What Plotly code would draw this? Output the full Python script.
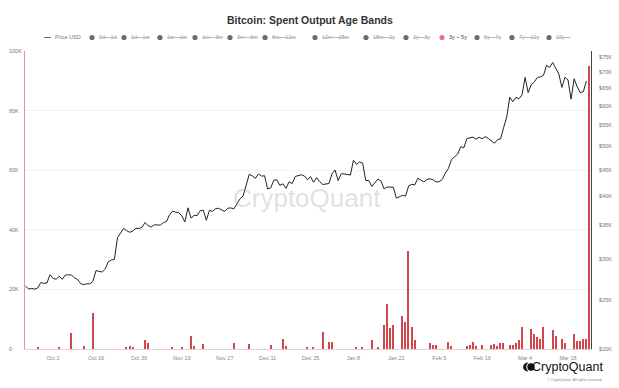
import plotly.graph_objects as go
import pandas as pd

# ---------------- DATA ----------------
price_start = "2023-09-23"
price_sep = [26580, 26250, 26300, 26220, 26370, 27020, 26910, 26970]
price_oct = [27990, 27510, 27430, 27800, 27420, 27950, 27970, 27940, 27590, 27390,
             26880, 26760, 26860, 26860, 27160, 28520, 28420, 28330, 28720, 29680,
             29920, 29990, 33090, 33900, 34500, 34160, 33910, 34090, 34540, 34500, 34670]
price_nov = [35440, 34940, 34730, 35080, 35050, 35040, 35420, 35620, 36700, 37320,
             37140, 37060, 36500, 35540, 37880, 36160, 36600, 36590, 37390, 37480,
             35810, 37430, 37290, 37720, 37800, 37480, 37250, 37830, 37850, 37720]
price_dec = [38690, 39460, 39970, 41980, 44080, 43750, 43290, 44170, 43720, 43790,
             41240, 41450, 42890, 43020, 41930, 42240, 41360, 42620, 42270, 43650,
             43870, 43990, 43740, 43020, 43610, 42520, 43440, 42630, 42100, 42140, 42280]
price_jan = [44180, 44940, 42850, 44180, 44160, 43970, 43930, 46970, 46110, 46630,
             46340, 42890, 42850, 41730, 42510, 43150, 42740, 41260, 41620, 41660,
             41580, 39570, 39850, 40080, 39950, 41820, 42120, 42030, 43300, 42950, 42580]
price_feb = [43080, 43190, 42990, 42580, 42660, 43090, 44340, 45290, 47150, 47770,
             48290, 49960, 49700, 51810, 51940, 52160, 51660, 52120, 51780, 52280,
             51840, 51300, 50730, 51570, 51730, 54480, 57090, 62500, 61200]
price_mar = [62440, 62030, 63170, 68330, 63800, 66110, 66930, 68300, 68500, 69020,
             72120, 71480, 73080, 71400, 69400, 65300, 68390, 67550, 61910, 67910,
             65490, 63780, 64060, 67210]

bar_dates = ["2023-09-27", "2023-10-04", "2023-10-08", "2023-10-12", "2023-10-15",
             "2023-10-26", "2023-10-27", "2023-10-28", "2023-11-01", "2023-11-02",
             "2023-11-10", "2023-11-13",
             "2023-11-16", "2023-11-17", "2023-11-20", "2023-11-30", "2023-12-05",
             "2023-12-12", "2023-12-16", "2023-12-17", "2023-12-24", "2023-12-26",
             "2023-12-29", "2023-12-31", "2024-01-01", "2024-01-09", "2024-01-11",
             "2024-01-14", "2024-01-16", "2024-01-18", "2024-01-19", "2024-01-20",
             "2024-01-21", "2024-01-24", "2024-01-25", "2024-01-26", "2024-01-27",
             "2024-01-28", "2024-02-02", "2024-02-03", "2024-02-04", "2024-02-08",
             "2024-02-09", "2024-02-14", "2024-02-15", "2024-02-16", "2024-02-17",
             "2024-02-19", "2024-02-22", "2024-02-23", "2024-02-24", "2024-02-25",
             "2024-02-26", "2024-02-28", "2024-02-29", "2024-03-01", "2024-03-02",
             "2024-03-03", "2024-03-06", "2024-03-07", "2024-03-08", "2024-03-09",
             "2024-03-10", "2024-03-13", "2024-03-14", "2024-03-16", "2024-03-17",
             "2024-03-20", "2024-03-21", "2024-03-22", "2024-03-23", "2024-03-24",
             "2024-03-25"]
bar_values = [500, 500, 5400, 1000, 12000,
              800, 1000, 800, 3000, 2000,
              400, 400,
              4500, 1000, 1600, 2000, 1800,
              1400, 3200, 1000, 500, 600,
              5700, 2200, 2200, 400, 500,
              3000, 500, 8000, 15000, 7000,
              8000, 11000, 9000, 33000, 7500,
              3000, 2000, 1500, 1200, 2500,
              1000, 1000, 1500, 2500, 1000,
              1500, 1500, 1800, 1000, 2000,
              2000, 1200, 1500, 2000, 3000,
              7400, 6700, 5000, 4000, 3400,
              7300, 6400, 4400, 3300, 2000,
              5000, 2700, 2700, 3200, 3400,
              95000]

x_tick_dates = ["2023-10-02", "2023-10-16", "2023-10-30", "2023-11-13", "2023-11-27",
                "2023-12-11", "2023-12-25", "2024-01-08", "2024-01-22", "2024-02-05",
                "2024-02-19", "2024-03-04", "2024-03-18"]
left_tick_vals = [0, 20000, 40000, 60000, 80000, 100000]
left_tick_text = ["0", "20K", "40K", "60K", "80K", "100K"]
right_tick_vals = [20000, 25000, 30000, 35000, 40000, 45000, 50000, 55000, 60000, 65000, 70000, 75000]
right_tick_text = ["$20K", "$25K", "$30K", "$35K", "$40K", "$45K", "$50K", "$55K", "$60K", "$65K", "$70K", "$75K"]

legend_labels = ["0d~1d", "1d~1w", "1w~1m", "1m~3m", "3m~6m", "6m~12m", "12m~18m",
                 "18m~2y", "2y~3y", "3y~5y", "5y~7y", "7y~10y", "10y~"]
active_band = "3y~5y"

# ---------------- LAYOUT HELPERS ----------------
W, H = 619, 388
L, R, T, B = 25, 28, 51, 39
PW, PH = W - L - R, H - T - B


def px(x):
    return (x - L) / PW


def py(y):
    return (H - B - y) / PH


FONT = "Liberation Sans, Arial, sans-serif"
BAR_COLOR = "#d0474c"

prices = price_sep + price_oct + price_nov + price_dec + price_jan + price_feb + price_mar
price_dates = pd.date_range(price_start, periods=len(prices), freq="D")

fig = go.Figure()
fig.add_trace(go.Bar(
    x=pd.to_datetime(bar_dates), y=bar_values, yaxis="y",
    marker=dict(color=BAR_COLOR, line=dict(width=0)),
    width=0.45 * 86400000, showlegend=False, hoverinfo="skip",
))
fig.add_trace(go.Scatter(
    x=price_dates, y=prices, yaxis="y2", mode="lines",
    line=dict(color="#222222", width=1), showlegend=False,
))

shapes = []
annotations = []

# title
annotations.append(dict(text="<b>Bitcoin: Spent Output Age Bands</b>", x=px(310), y=py(20),
                        xref="paper", yref="paper", showarrow=False,
                        font=dict(family=FONT, size=10.5, color="#333333"),
                        xanchor="center", yanchor="middle"))

# legend
LY = 37.5
shapes.append(dict(type="line", xref="paper", yref="paper", x0=px(44), x1=px(51),
                   y0=py(LY), y1=py(LY), line=dict(color="#666666", width=1)))
annotations.append(dict(text="Price USD", x=px(53), y=py(LY), xref="paper", yref="paper",
                        showarrow=False, xanchor="left", yanchor="middle",
                        font=dict(family=FONT, size=5.5, color="#777777")))
dot_x = [92, 124, 160, 195, 230, 265, 315, 366, 406, 442, 477, 512, 549]
for lab, dx in zip(legend_labels, dot_x):
    active = lab == active_band
    col = "#e07a85" if active else "#6b6b6b"
    shapes.append(dict(type="circle", xref="paper", yref="paper",
                       x0=px(dx - 2.6), x1=px(dx + 2.6), y0=py(LY + 2.6), y1=py(LY - 2.6),
                       fillcolor=col, line=dict(width=0)))
    if active:
        txt = lab.replace("~", " ~ ")
        tcol = "#444444"
    else:
        txt = '<span style="text-decoration:line-through">' + lab.replace("~", "—") + "</span>"
        tcol = "#a0a0a0"
    annotations.append(dict(text=txt, x=px(dx + 4.5), y=py(LY), xref="paper", yref="paper",
                            showarrow=False, xanchor="left", yanchor="middle",
                            font=dict(family=FONT, size=5.5, color=tcol)))

# left axis labels (left aligned)
for v, t in zip(left_tick_vals, left_tick_text):
    annotations.append(dict(text=t, x=px(7), y=v, xref="paper", yref="y", showarrow=False,
                            xanchor="left", yanchor="middle",
                            font=dict(family=FONT, size=5.5, color="#777777")))

# watermark
annotations.append(dict(text="CryptoQuant", x=px(307), y=py(198), xref="paper", yref="paper",
                        showarrow=False, xanchor="center", yanchor="middle",
                        font=dict(family=FONT, size=26, color="rgba(150,150,150,0.30)")))

# bottom-right logo
shapes.append(dict(type="path", xref="paper", yref="paper", fillcolor="#111111", line=dict(width=0),
                   path=(f"M {px(528)} {py(362.5)} C {px(521.5)} {py(362.5)} {px(521.5)} {py(371.5)} "
                         f"{px(528)} {py(371.5)} Z")))
shapes.append(dict(type="circle", xref="paper", yref="paper", fillcolor="white", line=dict(width=0),
                   x0=px(526.2), x1=px(535.8), y0=py(371.8), y1=py(362.2)))
shapes.append(dict(type="circle", xref="paper", yref="paper", fillcolor="#111111", line=dict(width=0),
                   x0=px(527.3), x1=px(534.7), y0=py(370.7), y1=py(363.3)))
annotations.append(dict(text="CryptoQuant", x=px(605), y=py(367), xref="paper", yref="paper",
                        showarrow=False, xanchor="right", yanchor="middle",
                        font=dict(family=FONT, size=12.5, color="#111111")))
annotations.append(dict(text="© CryptoQuant. All rights reserved.", x=px(605), y=py(379.5),
                        xref="paper", yref="paper", showarrow=False, xanchor="right",
                        yanchor="middle", font=dict(family=FONT, size=3.6, color="#888888")))

fig.update_layout(
    width=W, height=H,
    margin=dict(l=L, r=R, t=T, b=B, pad=0, autoexpand=False),
    paper_bgcolor="white", plot_bgcolor="white",
    bargap=0,
    showlegend=False,
    font=dict(family=FONT),
    xaxis=dict(
        type="date", automargin=False,
        range=["2023-09-22 20:00", "2024-03-25 12:00"],
        tickvals=pd.to_datetime(x_tick_dates), tickformat="%b %-d",
        tickfont=dict(family=FONT, size=5.5, color="#888888"),
        showgrid=False, zeroline=False,
        showline=True, linecolor="#e4cfcf", linewidth=1,
        ticks="", ticklabelstandoff=3,
    ),
    yaxis=dict(
        automargin=False,
        range=[0, 100000], tickvals=left_tick_vals, showticklabels=False,
        showgrid=True, gridcolor="#f2f2f2", gridwidth=1, zeroline=False,
        showline=True, linecolor="#d99a9a", linewidth=1, ticks="",
    ),
    yaxis2=dict(
        type="log", overlaying="y", side="right", automargin=False,
        range=[4.30103, 4.8865],
        tickvals=right_tick_vals, ticktext=right_tick_text,
        tickfont=dict(family=FONT, size=5.5, color="#777777"),
        showgrid=False, zeroline=False,
        showline=True, linecolor="#444444", linewidth=1, ticks="",
        ticklabelstandoff=6,
    ),
    shapes=shapes,
    annotations=annotations,
)

fig.write_html("out.html")
